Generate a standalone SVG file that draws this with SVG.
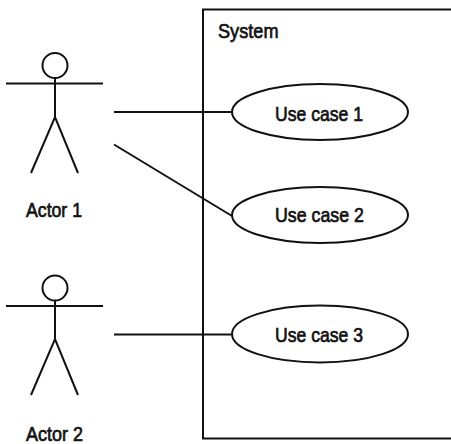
<svg xmlns="http://www.w3.org/2000/svg" width="451" height="444" viewBox="0 0 451 444">
<style>
.l{fill:none;stroke:#111;stroke-width:2}
.n{fill:#fff;stroke:#111;stroke-width:2}
text{font-family:"Liberation Sans",Arial,sans-serif;font-size:21px;fill:#111;stroke:#111;stroke-width:.7}
</style>
<rect width="451" height="444" fill="#fff"/>
<g id="system">
<path class="l" d="M451 9.500H203V438.500H451"/>
<text x="218" y="38" textLength="60.500" lengthAdjust="spacingAndGlyphs">System</text>
</g>
<g id="connectors">
<path class="l" d="M114 112H232"/>
<path class="l" d="M114 144.500L232 216"/>
<path class="l" d="M114 334.500H232"/>
</g>
<g id="actor1">
<circle class="l" cx="55" cy="65.500" r="12.500"/>
<path class="l" d="M6 83.500H103M55 78V117M31 173L55 117L78 173"/>
<text x="26" y="217" textLength="56" lengthAdjust="spacingAndGlyphs">Actor 1</text>
</g>
<g id="actor2">
<circle class="l" cx="55" cy="288" r="12.500"/>
<path class="l" d="M6 306H103M55 300.500V339M31 395L55 339L78 395"/>
<text x="26" y="441" textLength="57" lengthAdjust="spacingAndGlyphs">Actor 2</text>
</g>
<g id="uc1">
<ellipse class="n" cx="320" cy="112" rx="88" ry="28"/>
<text x="275" y="120.500" textLength="88" lengthAdjust="spacingAndGlyphs">Use case 1</text>
</g>
<g id="uc2">
<ellipse class="n" cx="320" cy="215" rx="88" ry="28"/>
<text x="275" y="222" textLength="89" lengthAdjust="spacingAndGlyphs">Use case 2</text>
</g>
<g id="uc3">
<ellipse class="n" cx="320" cy="334" rx="88" ry="28.500"/>
<text x="275" y="342" textLength="88" lengthAdjust="spacingAndGlyphs">Use case 3</text>
</g>
</svg>
